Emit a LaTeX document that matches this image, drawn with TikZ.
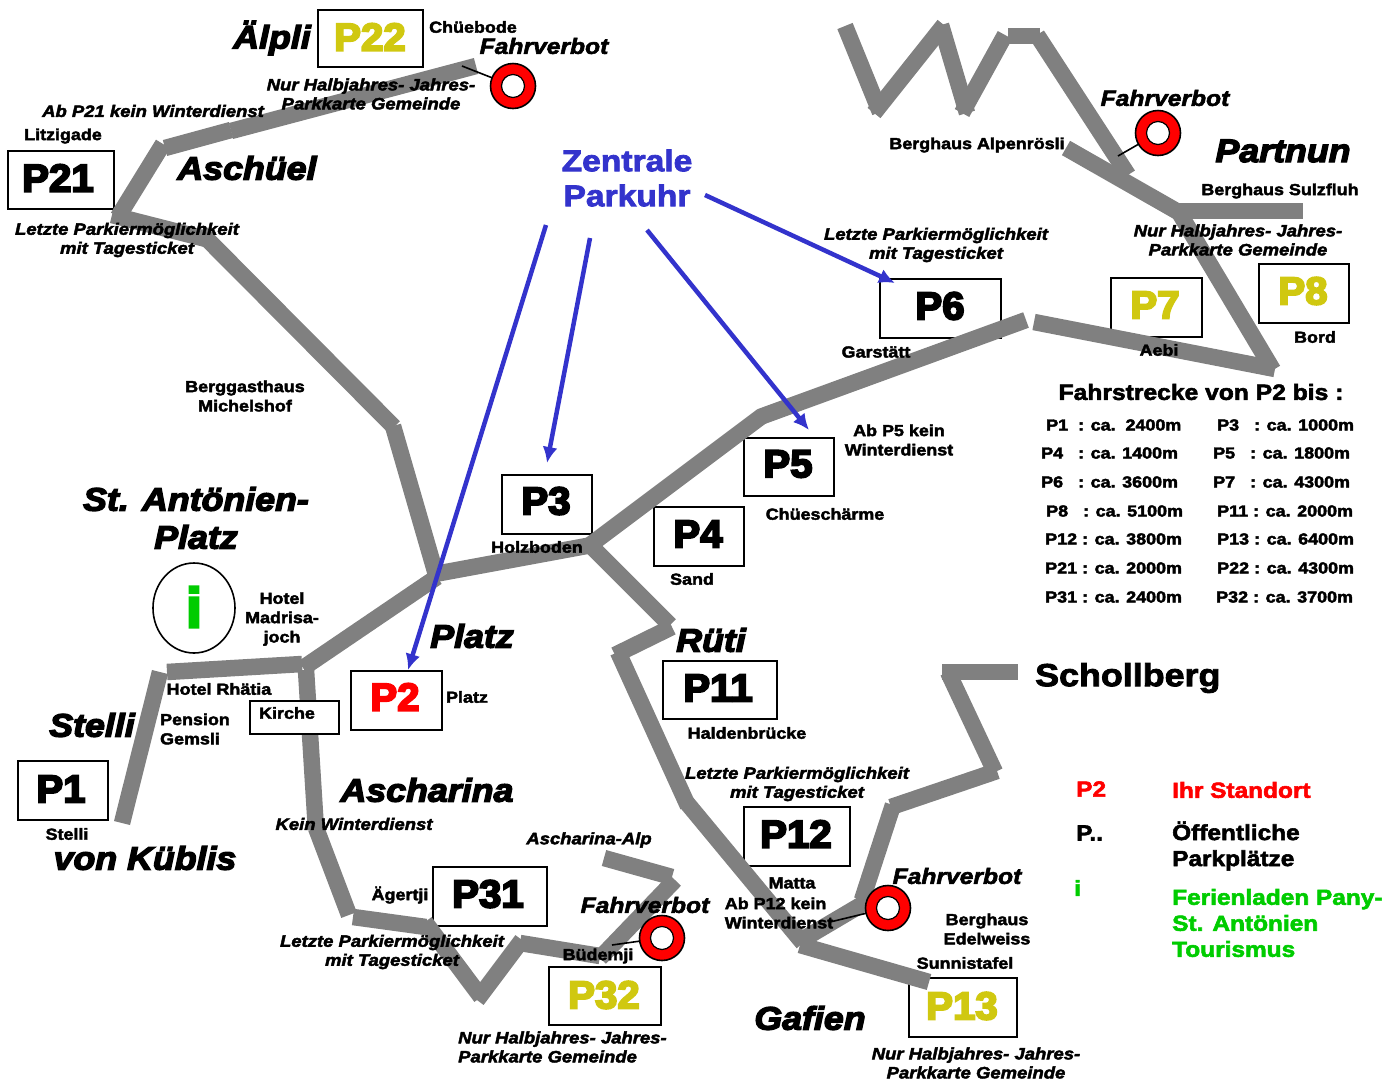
\documentclass[tikz,border=0pt]{standalone}
\usepackage{fontspec}
\usetikzlibrary{arrows.meta,shapes.geometric}
\setmainfont{Liberation Sans}[BoldFeatures={FakeBold=2.6,FakeStretch=1.12},BoldItalicFeatures={FakeBold=2.6,FakeStretch=1.12}]
\newfontfamily\heavyp{Liberation Sans}[BoldFeatures={FakeBold=5,FakeStretch=1.03}]
\newfontfamily\heavyi{Liberation Sans}[BoldItalicFeatures={FakeBold=4.2,FakeStretch=1.1}]
\definecolor{road}{HTML}{808080}
\definecolor{gold}{HTML}{D0C810}
\definecolor{pblue}{HTML}{3333CC}
\definecolor{igreen}{HTML}{00CC00}
\tikzset{
 roadseg/.style={draw=road,line width=16.5pt,line cap=butt},
 box/.style={draw=black,line width=1.8pt,fill=white,inner sep=0pt,anchor=north west},
 lab/.style={inner sep=0pt,align=center,font=\fontsize{16}{19.3}\selectfont\bfseries},
 ital/.style={inner sep=0pt,align=center,font=\fontsize{16.5}{19}\selectfont\bfseries\itshape},
 fvb/.style={inner sep=0pt,font=\fontsize{22}{25}\selectfont\bfseries\itshape},
 big/.style={inner sep=0pt,align=center,font=\fontsize{32.5}{38}\selectfont\heavyi\bfseries\itshape},
 pnum/.style={inner sep=0pt,font=\fontsize{39}{40}\selectfont\heavyp\bfseries},
 tbl/.style={inner sep=0pt,anchor=west,font=\fontsize{16}{18}\selectfont\bfseries},
 leg/.style={inner sep=0pt,anchor=west,align=left,font=\fontsize{21.8}{26}\selectfont\bfseries},
 arr/.style={draw=pblue,line width=4.5pt,-{Latex[length=16pt,width=15pt]}},
 ring/.style={circle,draw=black,line width=1.6pt,inner sep=0pt,minimum size=45pt,fill=red},
 hole/.style={circle,draw=black,line width=1.2pt,inner sep=0pt,minimum size=23pt,fill=white},
 tick/.style={draw=black,line width=1.6pt},
}
\begin{document}
\begin{tikzpicture}[x=1pt,y=-1pt]
\useasboundingbox (0,0) rectangle (1385,1080);
% boxes under roads
\node[box,minimum width=105pt,minimum height=57pt] (bP22) at (317,9) {};
\node[box,minimum width=106pt,minimum height=58pt] (bP21) at (7,150) {};
\node[box,minimum width=121pt,minimum height=59pt] (bP6) at (879,278) {};
\node[box,minimum width=91pt,minimum height=59pt] (bP7) at (1110,277) {};
\node[box,minimum width=90pt,minimum height=59pt] (bP8) at (1258,263) {};
\node[box,minimum width=90pt,minimum height=58pt] (bP5) at (743,437) {};
\node[box,minimum width=90pt,minimum height=59pt] (bP3) at (501,474) {};
\node[box,minimum width=90pt,minimum height=59pt] (bP4) at (653,506) {};
\node[box,minimum width=91pt,minimum height=59pt] (bP2) at (350,670) {};
\node[box,minimum width=114pt,minimum height=58pt] (bP11) at (662,660) {};
\node[box,minimum width=90pt,minimum height=59pt] (bP1) at (17,760) {};
\node[box,minimum width=114pt,minimum height=59pt] (bP31) at (432,866) {};
\node[box,minimum width=106pt,minimum height=59pt] (bP12) at (743,806) {};
\node[box,minimum width=112pt,minimum height=58pt] (bP32) at (548,966) {};
\node[box,minimum width=108pt,minimum height=59pt] (bP13) at (908,977) {};
\node[draw=black,line width=1.6pt,ellipse,minimum width=82pt,minimum height=90pt,inner sep=0pt] (einfo) at (194,608) {};
% roads
\draw[roadseg] (476,66) -- (231,131);
\draw[roadseg] (231,130) -- (165,148);
\draw[roadseg] (163,144) -- (118,217);
\draw[roadseg] (112,215) -- (206,239);
\draw[roadseg] (200,232) -- (394,427);
\draw[roadseg] (393,426) -- (437,578);
\draw[roadseg] (303,668) -- (437,577);
\draw[roadseg] (435,574) -- (592,545);
\draw[roadseg] (590,545) -- (762,416);
\draw[roadseg] (760,417) -- (1026,320);
\draw[roadseg] (1034,322) -- (1275,369);
\draw[roadseg] (1273,370) -- (1177,209);
\draw[roadseg] (1175,211) -- (1303,211);
\draw[roadseg] (1180,213) -- (1066,148);
\draw[roadseg] (1128,175) -- (1037,35);
\draw[roadseg] (1008,36) -- (1040,36);
\draw[roadseg] (1005,35) -- (962,113);
\draw[roadseg] (967,113) -- (941,25);
\draw[roadseg] (944,25) -- (874,113);
\draw[roadseg] (880,112) -- (845,26);
\draw[roadseg] (167,672) -- (302,664);
\draw[roadseg] (160,672) -- (122,823);
\draw[roadseg] (306,670) -- (316,830);
\draw[roadseg] (316,828) -- (349,915);
\draw[roadseg] (353,917) -- (426,927);
\draw[roadseg] (425,922) -- (481,997);
\draw[roadseg] (477,1000) -- (522,940);
\draw[roadseg] (520,943) -- (600,956);
\draw[roadseg] (600,958) -- (675,880);
\draw[roadseg] (672,877) -- (604,858);
\draw[roadseg] (590,545) -- (670,625);
\draw[roadseg] (672,627) -- (615,655);
\draw[roadseg] (618,652) -- (688,806);
\draw[roadseg] (687,803) -- (803,943);
\draw[roadseg] (800,945) -- (929,982);
\draw[roadseg] (800,941) -- (866,902);
\draw[roadseg] (862,900) -- (893,805);
\draw[roadseg] (891,807) -- (997,771);
\draw[roadseg] (995,772) -- (948,672);
\draw[roadseg] (942,672) -- (1018,672);
% Kirche
\node[box,minimum width=89pt,minimum height=33pt] (bKirche) at (249,700) {};
\node[lab] (tKirche) at (287,713) {Kirche};
% rings
\coordinate (t1) at (462,66); \coordinate (t2) at (1118,156); \coordinate (t3) at (830,922); \coordinate (t4) at (612,945);
\coordinate (c1) at (513,86); \coordinate (c2) at (1158,133); \coordinate (c3) at (888,908); \coordinate (c4) at (662,938);
\draw[tick] (t1) -- (c1);
\draw[tick] (t2) -- (c2);
\draw[tick] (t3) -- (c3);
\draw[tick] (t4) -- (c4);
\foreach \n in {1,2,3,4}{
 \node[ring] (r\n) at (c\n) {};
 \node[hole] (h\n) at (c\n) {};
}
% Zentrale
\node[inner sep=0pt,align=center,text=pblue,font=\fontsize{30}{35}\selectfont\bfseries] (zentrale) at (627,178) {Zentrale\\Parkuhr};
\coordinate (a2s) at (546,225); \coordinate (a3s) at (590,238); \coordinate (a5s) at (647,230); \coordinate (a6s) at (705,195);
\coordinate (a2e) at (408,670); \coordinate (a3e) at (547,463); \coordinate (a5e) at (809,430); \coordinate (a6e) at (895,283);
\draw[arr] (a2s) -- (a2e);
\draw[arr] (a3s) -- (a3e);
\draw[arr] (a5s) -- (a5e);
\draw[arr] (a6s) -- (a6e);
% P numbers
\node[pnum,text=gold] (P22) at (370,37) {P22};
\node[pnum] (P21) at (58,178) {P21};
\node[pnum] (P6) at (940,306) {P6};
\node[pnum,text=gold] (P7) at (1155,305) {P7};
\node[pnum,text=gold] (P8) at (1303,291) {P8};
\node[pnum] (P5) at (788,464) {P5};
\node[pnum] (P3) at (546,501) {P3};
\node[pnum] (P4) at (698,534) {P4};
\node[pnum,text=red] (P2) at (395,697) {P2};
\node[pnum] (P11) at (718,688) {P11};
\node[pnum] (P1) at (61,789) {P1};
\node[pnum] (P31) at (488,894) {P31};
\node[pnum] (P12) at (796,834) {P12};
\node[pnum,text=gold] (P32) at (604,995) {P32};
\node[pnum,text=gold] (P13) at (962,1006) {P13};
\node[inner sep=0pt,text=igreen,font=\fontsize{56}{56}\selectfont\heavyp\bfseries] (iinfo) at (194,607) {i};
% big names
\node[big] (n1) at (272,38) {Älpli};
\node[big] (n2) at (247,168) {Aschüel};
\node[big] (n3) at (1283,151) {Partnun};
\node[big] (n4) at (196,518) {St. Antönien-\\Platz};
\node[big] (n5) at (472,636) {Platz};
\node[big] (n6) at (711,640) {Rüti};
\node[big] (n7) at (92,725) {Stelli};
\node[big] (n8) at (145,858) {von Küblis};
\node[big] (n9) at (427,790) {Ascharina};
\node[big] (n10) at (810,1018) {Gafien};
% small labels
\node[lab] (l1) at (473,27) {Chüebode};
\node[lab] (l2) at (63,136) {Litzigade};
\node[lab] (l3) at (245,396) {Berggasthaus\\Michelshof};
\node[lab] (l4) at (977,145) {Berghaus Alpenrösli};
\node[lab] (l5) at (1280,191) {Berghaus Sulzfluh};
\node[lab] (l6) at (876,352) {Garstätt};
\node[lab] (l7) at (1159,350) {Aebi};
\node[lab] (l8) at (1315,337) {Bord};
\node[lab] (l9) at (899,440) {Ab P5 kein\\Winterdienst};
\node[lab] (l10) at (825,514) {Chüeschärme};
\node[lab] (l11) at (537,547) {Holzboden};
\node[lab] (l12) at (692,579) {Sand};
\node[lab] (l13) at (282,619) {Hotel\\Madrisa-\\joch};
\node[lab] (l14) at (467,697) {Platz};
\node[lab] (l15) at (219,689) {Hotel Rhätia};
\node[lab,align=left] (l16) at (195,729) {Pension\\Gemsli};
\node[lab] (l17) at (747,733) {Haldenbrücke};
\node[lab] (l18) at (67,834) {Stelli};
\node[lab] (l19) at (400,895) {Ägertji};
\node[lab] (l20) at (598,956) {Büdemji};
\node[lab] (l21) at (792,883) {Matta};
\node[lab,align=left] (l22) at (779,913) {Ab P12 kein\\Winterdienst};
\node[lab] (l23) at (987,929) {Berghaus\\Edelweiss};
\node[lab] (l24) at (965,963) {Sunnistafel};
% italic labels
\node[fvb] (f1) at (544,46) {Fahrverbot};
\node[fvb] (f2) at (1165,98) {Fahrverbot};
\node[fvb] (f3) at (957,876) {Fahrverbot};
\node[fvb] (f4) at (645,905) {Fahrverbot};
\node[ital] (i1) at (371,94) {Nur Halbjahres- Jahres-\\Parkkarte Gemeinde};
\node[ital] (i2) at (153,111) {Ab P21 kein Winterdienst};
\node[ital] (i3) at (127,240) {Letzte Parkiermöglichkeit\\mit Tagesticket};
\node[ital] (i4) at (936,245) {Letzte Parkiermöglichkeit\\mit Tagesticket};
\node[ital] (i5) at (1238,240) {Nur Halbjahres- Jahres-\\Parkkarte Gemeinde};
\node[ital] (i6) at (797,784) {Letzte Parkiermöglichkeit\\mit Tagesticket};
\node[ital] (i7) at (354,824) {Kein Winterdienst};
\node[ital] (i8) at (589,840) {Ascharina-Alp};
\node[ital] (i9) at (392,952) {Letzte Parkiermöglichkeit\\mit Tagesticket};
\node[ital,align=left,anchor=west] (i10) at (458,1047) {Nur Halbjahres- Jahres-\\Parkkarte Gemeinde};
\node[ital] (i11) at (976,1063) {Nur Halbjahres- Jahres-\\Parkkarte Gemeinde};
% right column
\node[inner sep=0pt,font=\fontsize{32}{38}\selectfont\bfseries,anchor=west] (schol) at (1035,678) {Schollberg};
\node[inner sep=0pt,font=\fontsize{22}{26}\selectfont\bfseries] (fahr) at (1201,392) {Fahrstrecke von P2 bis :};
\node[tbl] (t01) at (1046,425) {P1\ \ : ca.\ \ 2400m};
\node[tbl] (t02) at (1217,425) {P3\ \ \ : ca. 1000m};
\node[tbl] (t03) at (1041,453) {P4\ \ \ : ca. 1400m};
\node[tbl] (t04) at (1213,453) {P5\ \ \ : ca. 1800m};
\node[tbl] (t05) at (1041,482) {P6\ \ \ : ca. 3600m};
\node[tbl] (t06) at (1213,482) {P7\ \ \ : ca. 4300m};
\node[tbl] (t07) at (1046,511) {P8\ \ \ : ca. 5100m};
\node[tbl] (t08) at (1217,511) {P11 : ca. 2000m};
\node[tbl] (t09) at (1045,539) {P12 : ca. 3800m};
\node[tbl] (t10) at (1217,539) {P13 : ca. 6400m};
\node[tbl] (t11) at (1045,568) {P21 : ca. 2000m};
\node[tbl] (t12) at (1217,568) {P22 : ca. 4300m};
\node[tbl] (t13) at (1045,597) {P31 : ca. 2400m};
\node[tbl] (t14) at (1216,597) {P32 : ca. 3700m};
% legend
\node[leg,text=red] (g1) at (1076,789) {P2};
\node[leg,text=red] (g2) at (1172,790) {Ihr Standort};
\node[leg] (g3) at (1076,833) {P..};
\node[leg] (g4) at (1172,846) {Öffentliche\\Parkplätze};
\node[leg,text=igreen] (g5) at (1074,888) {i};
\node[leg,text=igreen] (g6) at (1172,923) {Ferienladen Pany-\\St. Antönien\\Tourismus};
\end{tikzpicture}
\end{document}
